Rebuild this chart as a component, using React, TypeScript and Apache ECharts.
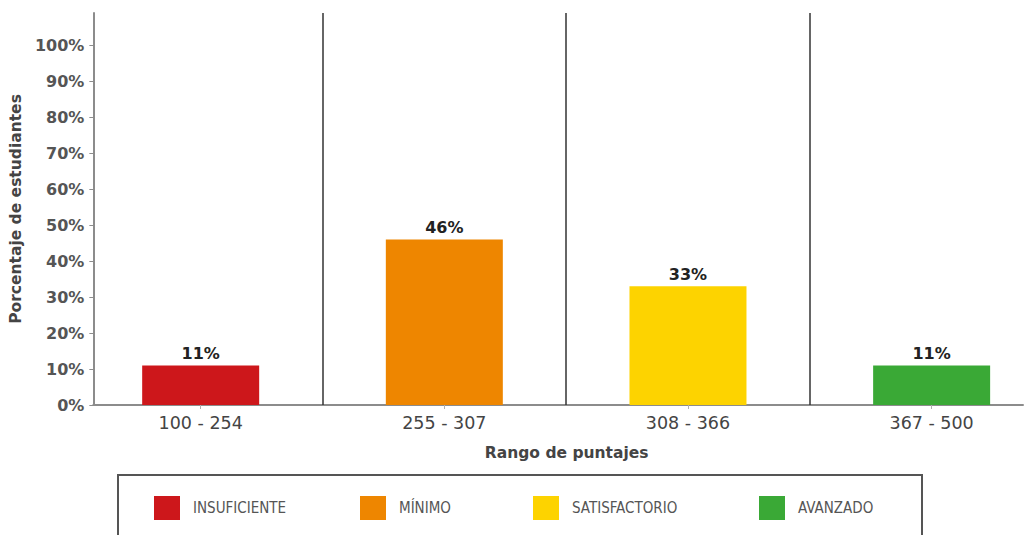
import { useEffect, useRef } from 'react';
import * as echarts from 'echarts';

// ---- data ----
const categories = ['100 - 254', '255 - 307', '308 - 366', '367 - 500'];
const levels = ['INSUFICIENTE', 'MÍNIMO', 'SATISFACTORIO', 'AVANZADO'];
const percentages = [11, 46, 33, 11];
const yTicks = [0, 10, 20, 30, 40, 50, 60, 70, 80, 90, 100];

// ---- styles ----
const levelColors = ['#CD171B', '#EE8600', '#FDD300', '#3AA936'];
const legendLefts = [154, 360, 533, 759];

const FONT = "'DejaVu Sans', Verdana, sans-serif";
const LEGEND_FONT = "'DejaVu Sans Condensed', 'Liberation Sans Narrow', 'Open Sans', sans-serif";

export default function App() {
  const ref = useRef<HTMLDivElement>(null);

  useEffect(() => {
    const chart = echarts.init(ref.current!, null, { renderer: 'svg' });
    const pageW = 1024;
    const gridLeft = 92;
    const gridRight = 1;
    const firstCentre = 199.5;
    const step = 244;
    const xMin = (gridLeft - firstCentre) / step;
    const xMax = (pageW - gridRight - firstCentre) / step;
    const idx = categories.map((_, i) => i);
    const boundaries = idx.slice(1).map((i) => i - 0.5);

    chart.setOption({
      animation: false,
      backgroundColor: '#ffffff',
      grid: { left: gridLeft, right: gridRight, top: 13, bottom: 130 },
      xAxis: {
        type: 'value',
        min: xMin,
        max: xMax,
        splitLine: { show: false },
        axisLine: { show: true, onZero: false, lineStyle: { color: '#8c8c8c', width: 2 } },
        axisTick: { show: true, customValues: idx, length: 4, lineStyle: { color: '#b0b0b0' } },
        axisLabel: {
          customValues: idx,
          formatter: (v: number) => categories[Math.round(v)] ?? '',
          fontFamily: FONT,
          fontSize: 17.5,
          color: '#444',
          margin: 9,
        },
        name: 'Rango de puntajes',
        nameLocation: 'middle',
        nameGap: 40,
        nameTextStyle: {
          fontFamily: FONT,
          fontSize: 15.5,
          fontWeight: 'bold',
          color: '#444',
          padding: [0, 0, 0, 17],
        },
      },
      yAxis: {
        type: 'value',
        min: 0,
        max: 109,
        splitLine: { show: false },
        axisLine: { show: true, onZero: false, lineStyle: { color: '#8c8c8c', width: 2 } },
        axisTick: { show: true, customValues: yTicks, length: 4, lineStyle: { color: '#8c8c8c' } },
        axisLabel: {
          customValues: yTicks,
          formatter: (v: number) => `${v}%`,
          fontFamily: FONT,
          fontSize: 16,
          fontWeight: 'bold',
          color: '#555',
          margin: 9,
        },
        name: 'Porcentaje de estudiantes',
        nameLocation: 'middle',
        nameGap: 64,
        nameTextStyle: {
          fontFamily: FONT,
          fontSize: 15.5,
          fontWeight: 'bold',
          color: '#444',
        },
      },
      legend: levels.map((name, i) => ({
        data: [{ name, icon: 'rect' }],
        left: legendLefts[i],
        top: 496,
        padding: 0,
        itemWidth: 26,
        itemHeight: 24,
        selectedMode: false,
        textStyle: {
          fontFamily: LEGEND_FONT,
          fontSize: 15,
          color: '#555',
          padding: [0, 0, 0, 8],
        },
      })),
      graphic: [
        {
          type: 'rect',
          shape: { x: 118, y: 475, width: 804, height: 90 },
          style: { fill: 'none', stroke: '#555', lineWidth: 2 },
          silent: true,
        },
      ],
      series: levels.map((name, i) => ({
        type: 'bar',
        name,
        data: [[i, percentages[i]]],
        barWidth: 117,
        barGap: '-100%',
        itemStyle: { color: levelColors[i] },
        label: {
          show: true,
          position: 'top',
          distance: 4,
          formatter: (p: any) => `${p.value[1]}%`,
          fontFamily: FONT,
          fontSize: 16,
          fontWeight: 'bold',
          color: '#222',
        },
        markLine:
          i === 0
            ? {
                silent: true,
                symbol: ['none', 'none'],
                label: { show: false },
                lineStyle: { color: '#333', type: 'solid', width: 1.5 },
                data: boundaries.map((b) => ({ xAxis: b })),
              }
            : undefined,
      })),
    });

    return () => chart.dispose();
  }, []);

  return (
    <div
      ref={ref}
      style={{ position: 'absolute', left: 0, top: 0, width: 1024, height: 535 }}
    />
  );
}
